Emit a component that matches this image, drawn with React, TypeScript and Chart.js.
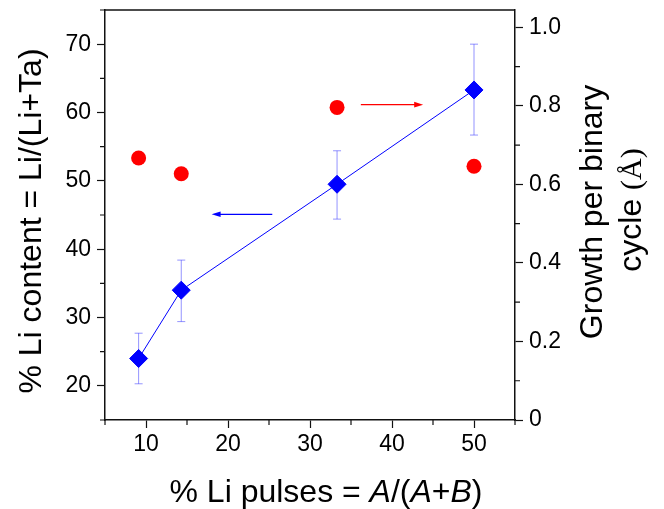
import React, { useEffect, useRef } from "react";
import { Chart, registerables } from "chart.js";

Chart.register(...registerables);

// ---- data ----
const liPulses = [9.1, 14.3, 33.3, 50];
const liContent = [24.0, 34.0, 49.5, 63.3];
const liContentErrLow = [20.3, 29.4, 44.4, 56.7];
const liContentErrHigh = [27.7, 38.4, 54.4, 70.0];
const growthPerCycle = [0.667, 0.627, 0.796, 0.646];

const xTicks = [10, 20, 30, 40, 50];
const xMinorTicks = [5, 15, 25, 35, 45, 55];
const yLeftTicks = [20, 30, 40, 50, 60, 70];
const yLeftMinorTicks = [15, 25, 35, 45, 55, 65, 75];
const yRightTicks = [0, 0.2, 0.4, 0.6, 0.8, 1.0];
const yRightMinorTicks = [0.1, 0.3, 0.5, 0.7, 0.9];

const blueArrowX = [25.4, 18.0];
const blueArrowY = 45.1;
const redArrowX = [36.2, 43.8];
const redArrowY = 0.803;

const xTitleParts = [
  { t: "% Li pulses = ", i: false },
  { t: "A", i: true },
  { t: "/(", i: false },
  { t: "A", i: true },
  { t: "+", i: false },
  { t: "B", i: true },
  { t: ")", i: false },
];
const yLeftTitle = "% Li content = Li/(Li+Ta)";
const yRightTitle1 = "Growth per binary";
const yRightTitle2a = "cycle ";
const yRightTitle2b = "(Å)";

const SANS = "'Liberation Sans', Arial, sans-serif";
const SERIF = "'Liberation Serif', 'Times New Roman', serif";
const BLUE = "#0000ff";
const RED = "#ff0000";
const AXIS = "#111111";

function arrow(ctx: CanvasRenderingContext2D, x0: number, x1: number, y: number, color: string) {
  const dir = Math.sign(x1 - x0);
  const headLen = 9;
  const headHalf = 2.8;
  ctx.save();
  ctx.strokeStyle = color;
  ctx.fillStyle = color;
  ctx.lineWidth = 1.2;
  ctx.beginPath();
  ctx.moveTo(x0, y);
  ctx.lineTo(x1 - dir * headLen * 0.8, y);
  ctx.stroke();
  ctx.beginPath();
  ctx.moveTo(x1, y);
  ctx.lineTo(x1 - dir * headLen, y - headHalf);
  ctx.lineTo(x1 - dir * headLen, y + headHalf);
  ctx.closePath();
  ctx.fill();
  ctx.restore();
}

const decorPlugin = {
  id: "decor",
  beforeDatasetsDraw(chart: any) {
    const ctx: CanvasRenderingContext2D = chart.ctx;
    const xs = chart.scales.x;
    const ys = chart.scales.y;
    ctx.save();
    ctx.strokeStyle = "rgba(60,60,255,0.55)";
    ctx.lineWidth = 1;
    for (let i = 0; i < liPulses.length; i++) {
      const px = xs.getPixelForValue(liPulses[i]);
      const lo = ys.getPixelForValue(liContentErrLow[i]);
      const hi = ys.getPixelForValue(liContentErrHigh[i]);
      ctx.beginPath();
      ctx.moveTo(px, lo);
      ctx.lineTo(px, hi);
      ctx.moveTo(px - 4, lo);
      ctx.lineTo(px + 4, lo);
      ctx.moveTo(px - 4, hi);
      ctx.lineTo(px + 4, hi);
      ctx.stroke();
    }
    ctx.restore();
  },
  afterDraw(chart: any) {
    const ctx: CanvasRenderingContext2D = chart.ctx;
    const xs = chart.scales.x;
    const ys = chart.scales.y;
    const y2 = chart.scales.y2;
    const area = chart.chartArea;

    // arrows
    arrow(ctx, xs.getPixelForValue(blueArrowX[0]), xs.getPixelForValue(blueArrowX[1]), ys.getPixelForValue(blueArrowY), BLUE);
    arrow(ctx, xs.getPixelForValue(redArrowX[0]), xs.getPixelForValue(redArrowX[1]), y2.getPixelForValue(redArrowY), RED);

    ctx.save();
    // top frame line
    ctx.strokeStyle = AXIS;
    ctx.lineWidth = 1.5;
    ctx.beginPath();
    ctx.moveTo(area.left, area.top);
    ctx.lineTo(area.right, area.top);
    ctx.stroke();

    // minor ticks
    ctx.lineWidth = 1.2;
    ctx.beginPath();
    for (const v of xMinorTicks) {
      const p = xs.getPixelForValue(v);
      ctx.moveTo(p, area.bottom);
      ctx.lineTo(p, area.bottom + 5);
    }
    for (const v of yLeftMinorTicks) {
      const p = ys.getPixelForValue(v);
      ctx.moveTo(area.left - 5, p);
      ctx.lineTo(area.left, p);
    }
    for (const v of yRightMinorTicks) {
      const p = y2.getPixelForValue(v);
      ctx.moveTo(area.right, p);
      ctx.lineTo(area.right + 5, p);
    }
    ctx.stroke();

    // titles
    ctx.fillStyle = "#000";
    ctx.textBaseline = "alphabetic";

    // x title with italic parts
    const fontN = `32px ${SANS}`;
    const fontI = `italic 32px ${SANS}`;
    let total = 0;
    for (const p of xTitleParts) {
      ctx.font = p.i ? fontI : fontN;
      total += ctx.measureText(p.t).width;
    }
    let cx = 326 - total / 2;
    ctx.textAlign = "left";
    for (const p of xTitleParts) {
      ctx.font = p.i ? fontI : fontN;
      ctx.fillText(p.t, cx, 502);
      cx += ctx.measureText(p.t).width;
    }

    // left title
    ctx.save();
    ctx.translate(41, 221);
    ctx.rotate(-Math.PI / 2);
    ctx.font = fontN;
    ctx.textAlign = "center";
    ctx.fillText(yLeftTitle, 0, 0);
    ctx.restore();

    // right title line 1
    ctx.save();
    ctx.translate(602, 212);
    ctx.rotate(-Math.PI / 2);
    ctx.font = fontN;
    ctx.textAlign = "center";
    ctx.fillText(yRightTitle1, 0, 0);
    ctx.restore();

    // right title line 2
    ctx.save();
    ctx.translate(641, 210);
    ctx.rotate(-Math.PI / 2);
    ctx.font = fontN;
    const wa = ctx.measureText(yRightTitle2a).width;
    ctx.font = `30px ${SERIF}`;
    const wb = ctx.measureText(yRightTitle2b).width;
    const start = -(wa + wb) / 2;
    ctx.textAlign = "left";
    ctx.font = fontN;
    ctx.fillText(yRightTitle2a, start, 0);
    ctx.font = `30px ${SERIF}`;
    ctx.fillText(yRightTitle2b, start + wa, 0);
    ctx.restore();

    ctx.restore();
  },
};

export default function App() {
  const ref = useRef<HTMLCanvasElement | null>(null);

  useEffect(() => {
    if (!ref.current) return;
    const tickFont = { family: SANS, size: 23 };
    const gridOpts = {
      display: true,
      drawOnChartArea: false,
      drawTicks: true,
      tickLength: 8,
      tickWidth: 1.2,
      tickColor: AXIS,
    };
    const borderOpts = { display: true, color: AXIS, width: 1.5 };

    const chart = new Chart(ref.current, {
      type: "scatter",
      data: {
        datasets: [
          {
            label: "Li content",
            data: liPulses.map((x, i) => ({ x, y: liContent[i] })),
            yAxisID: "y",
            showLine: true,
            borderColor: BLUE,
            borderWidth: 1,
            backgroundColor: BLUE,
            pointBackgroundColor: BLUE,
            pointBorderColor: BLUE,
            pointBorderWidth: 1,
            pointStyle: "rectRot",
            pointRadius: 9,
            pointHoverRadius: 9,
          },
          {
            label: "Growth per cycle",
            data: liPulses.map((x, i) => ({ x, y: growthPerCycle[i] })),
            yAxisID: "y2",
            showLine: false,
            backgroundColor: RED,
            pointBackgroundColor: RED,
            pointBorderColor: RED,
            pointBorderWidth: 0,
            pointStyle: "circle",
            pointRadius: 7.5,
            pointHoverRadius: 7.5,
          },
        ],
      },
      options: {
        animation: false,
        responsive: false,
        devicePixelRatio: 1,
        events: [],
        layout: { padding: { top: 9, left: 0, right: 0, bottom: 0 } },
        plugins: {
          legend: { display: false },
          tooltip: { enabled: false },
        },
        scales: {
          x: {
            type: "linear",
            position: "bottom",
            min: 5,
            max: 55,
            afterBuildTicks: (s: any) => {
              s.ticks = xTicks.map((v) => ({ value: v }));
            },
            afterFit: (s: any) => {
              s.height = 89;
              s.paddingLeft = 0;
              s.paddingRight = 0;
            },
            grid: gridOpts,
            border: borderOpts,
            ticks: {
              font: tickFont,
              color: "#000",
              padding: 3,
              maxRotation: 0,
              autoSkip: false,
            },
          },
          y: {
            type: "linear",
            position: "left",
            min: 15,
            max: 75,
            afterBuildTicks: (s: any) => {
              s.ticks = yLeftTicks.map((v) => ({ value: v }));
            },
            afterFit: (s: any) => {
              s.width = 105;
              s.paddingTop = 0;
              s.paddingBottom = 0;
            },
            grid: gridOpts,
            border: borderOpts,
            ticks: {
              font: tickFont,
              color: "#000",
              padding: 6,
              autoSkip: false,
            },
          },
          y2: {
            type: "linear",
            position: "right",
            min: 0,
            max: 1.044,
            afterBuildTicks: (s: any) => {
              s.ticks = yRightTicks.map((v) => ({ value: v }));
            },
            afterFit: (s: any) => {
              s.width = 149;
              s.paddingTop = 0;
              s.paddingBottom = 0;
            },
            grid: gridOpts,
            border: borderOpts,
            ticks: {
              font: tickFont,
              color: "#000",
              padding: 6,
              autoSkip: false,
              callback: (v: any) => (Number(v) === 0 ? "0" : Number(v).toFixed(1)),
            },
          },
        },
      } as any,
      plugins: [decorPlugin],
    });
    return () => chart.destroy();
  }, []);

  return (
    <div
      style={{
        position: "absolute",
        left: 0,
        top: 0,
        width: 664,
        height: 509,
        background: "#fff",
      }}
    >
      <canvas ref={ref} width={664} height={509} style={{ width: 664, height: 509, display: "block" }} />
    </div>
  );
}
